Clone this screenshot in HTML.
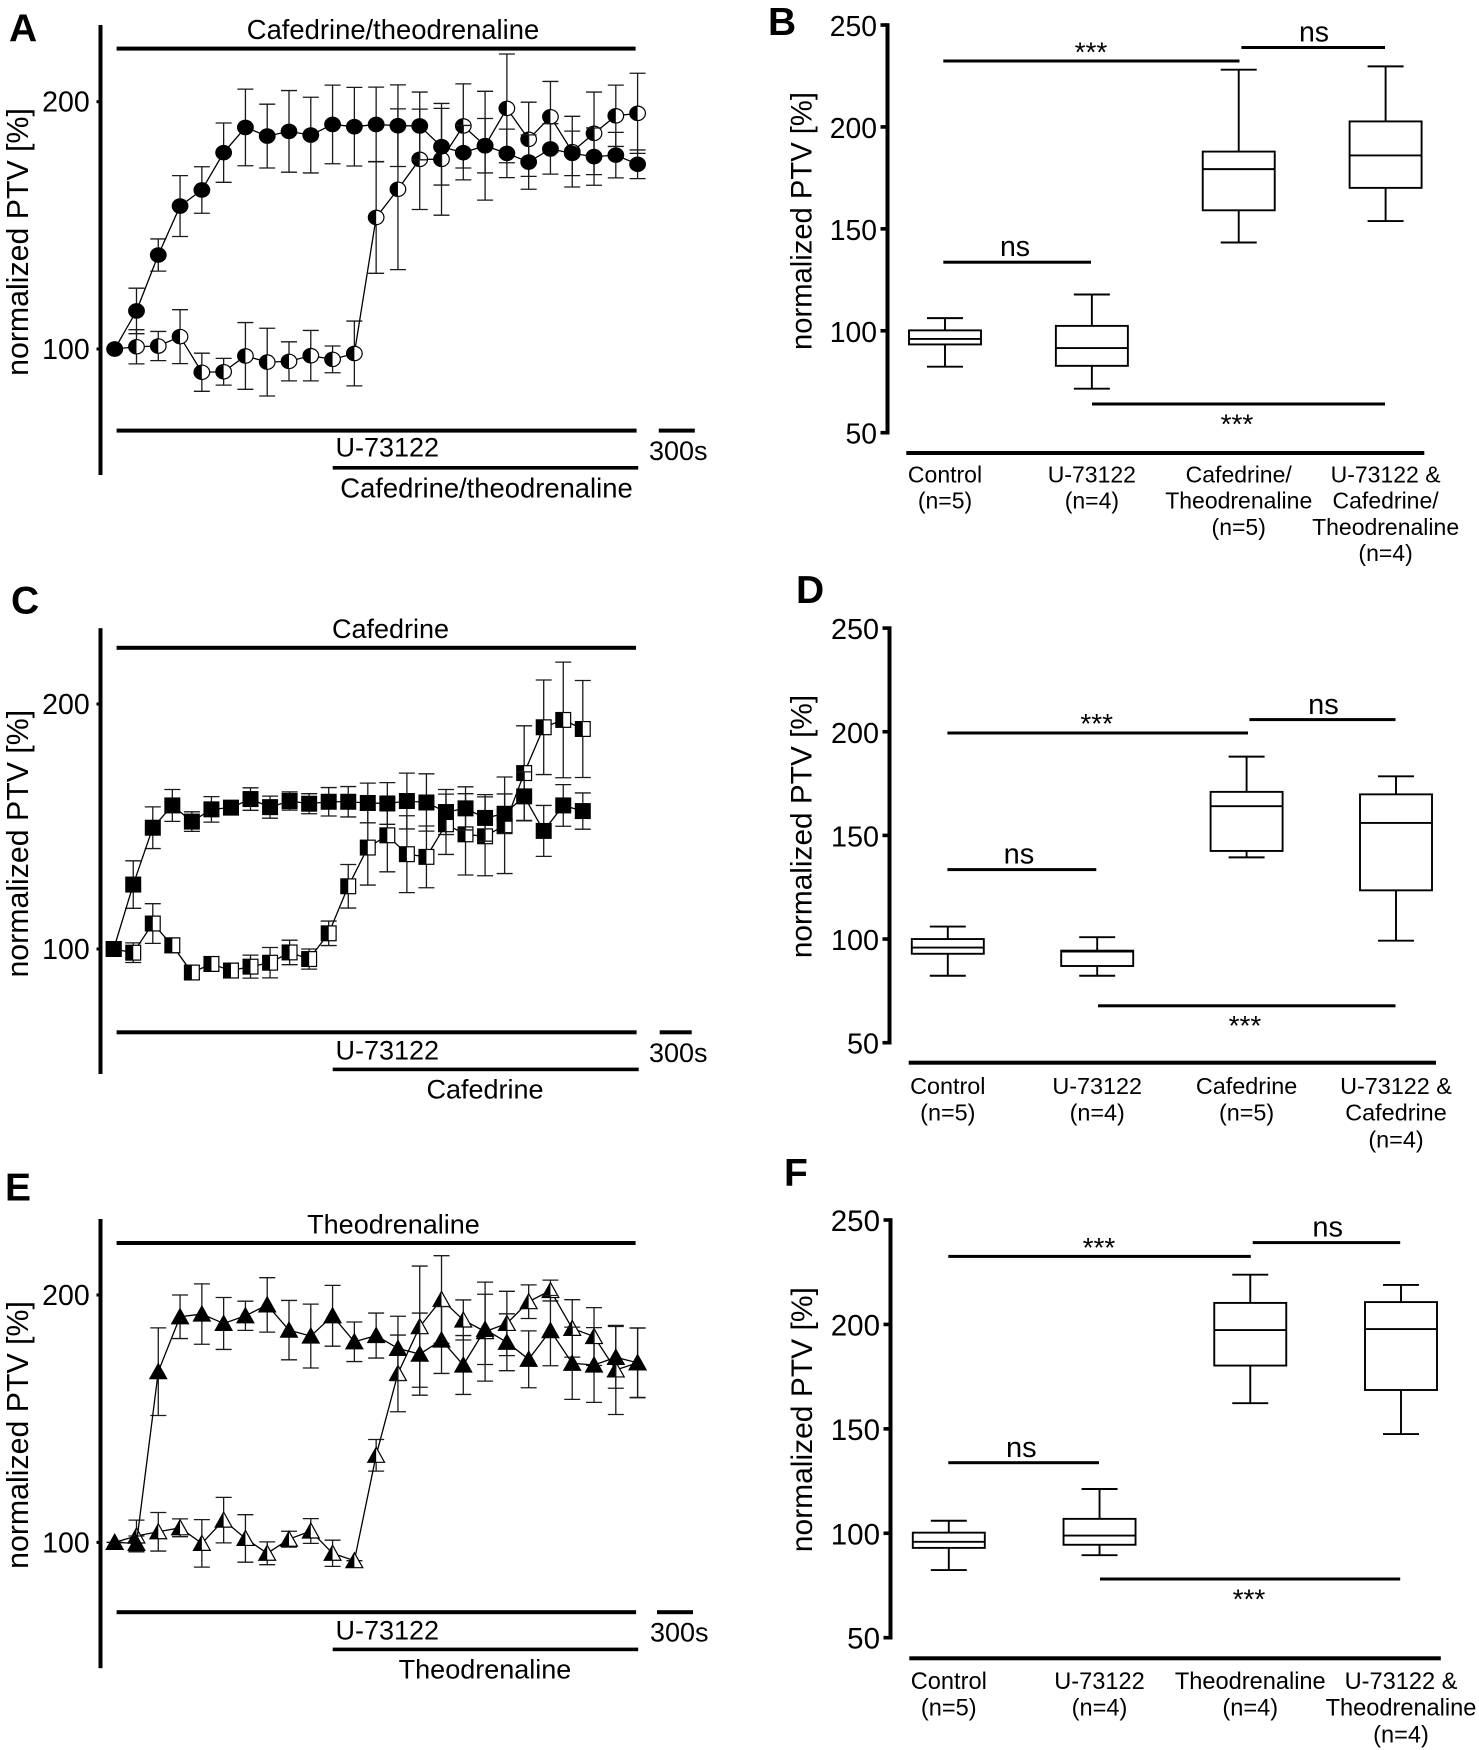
<!DOCTYPE html>
<html lang="en">
<head>
<meta charset="utf-8">
<title>Normalized PTV panels A to F</title>
<style>
html,body{margin:0;padding:0;background:#fff;}
svg{display:block;}
text{font-family:"Liberation Sans",Arial,sans-serif;fill:#000;}
.letter{font-weight:bold;font-size:39px;}
.ann{font-size:27px;}
</style>
</head>
<body>
<svg id="figure" xmlns="http://www.w3.org/2000/svg" width="1479" height="1750" viewBox="0 0 1479 1750">
<rect x="0" y="0" width="1479" height="1750" fill="#fff"/>

<text class="letter" x="9" y="41.5">A</text>
<text class="letter" x="768" y="35">B</text>
<text class="letter" x="11" y="613.5">C</text>
<text class="letter" x="796" y="603">D</text>
<text class="letter" x="5" y="1200.5">E</text>
<text class="letter" x="784" y="1186">F</text>

<g>
<text class="ann" style="font-size:27.4px" x="393" y="39" text-anchor="middle">Cafedrine/theodrenaline</text>
<rect x="116.6" y="46.6" width="519" height="4"/>
<rect x="116.6" y="428.6" width="520" height="4"/>
<rect x="658.8" y="428.6" width="36" height="4"/>
<text class="ann" x="335.5" y="456.5">U-73122</text>
<text class="ann" x="649" y="460">300s</text>
<rect x="332.7" y="466" width="305.5" height="3.6"/>
<text class="ann" style="font-size:27.4px" x="486.5" y="497.5" text-anchor="middle">Cafedrine/theodrenaline</text>
</g>

<g>
<text class="ann" x="390.5" y="638" text-anchor="middle">Cafedrine</text>
<rect x="116.6" y="645.8" width="519.4" height="4"/>
<rect x="116.6" y="1030.3" width="520" height="4"/>
<rect x="659.7" y="1030.3" width="32" height="4"/>
<text class="ann" x="335.5" y="1059.4">U-73122</text>
<text class="ann" x="649" y="1062">300s</text>
<rect x="332.7" y="1067.6" width="306" height="3.6"/>
<text class="ann" x="485" y="1098.4" text-anchor="middle">Cafedrine</text>
</g>

<g>
<text class="ann" x="393.5" y="1233.3" text-anchor="middle">Theodrenaline</text>
<rect x="116.6" y="1241" width="519" height="4"/>
<rect x="116.6" y="1610.2" width="519.5" height="4"/>
<rect x="657" y="1610.2" width="36" height="4"/>
<text class="ann" x="335.5" y="1639.3">U-73122</text>
<text class="ann" x="650" y="1641.6">300s</text>
<rect x="332.7" y="1647.6" width="305.5" height="3.6"/>
<text class="ann" x="485" y="1678.3" text-anchor="middle">Theodrenaline</text>
</g>

<g>
<rect x="943.3" y="59.5" width="296.2" height="3"/>
<text x="1091" y="61.5" text-anchor="middle" font-size="28">***</text>
<rect x="1241.4" y="46" width="143.6" height="3"/>
<text x="1314" y="41.4" text-anchor="middle" font-size="28.5">ns</text>
<rect x="943.3" y="260.7" width="147.7" height="3"/>
<text x="1015" y="256" text-anchor="middle" font-size="28.5">ns</text>
<rect x="1092" y="402.5" width="293" height="3"/>
<text x="1237" y="433.5" text-anchor="middle" font-size="28">***</text>
</g>

<g>
<rect x="947.4" y="731.5" width="300.6" height="3"/>
<text x="1096.7" y="733" text-anchor="middle" font-size="28">***</text>
<rect x="1249.4" y="718.1" width="146.1" height="3"/>
<text x="1323.4" y="713.8" text-anchor="middle" font-size="29">ns</text>
<rect x="947.4" y="868.1" width="148.9" height="3"/>
<text x="1019" y="863.5" text-anchor="middle" font-size="29">ns</text>
<rect x="1098" y="1004.3" width="297.5" height="3"/>
<text x="1245" y="1035" text-anchor="middle" font-size="28">***</text>
</g>

<g>
<rect x="948.3" y="1254.9" width="302.5" height="3"/>
<text x="1099" y="1257" text-anchor="middle" font-size="28">***</text>
<rect x="1252.7" y="1241.1" width="147.5" height="3"/>
<text x="1327.7" y="1236.5" text-anchor="middle" font-size="29">ns</text>
<rect x="948.3" y="1461.2" width="150.7" height="3"/>
<text x="1021.3" y="1457" text-anchor="middle" font-size="29">ns</text>
<rect x="1100" y="1577.5" width="300.2" height="3"/>
<text x="1249" y="1608.5" text-anchor="middle" font-size="28">***</text>
</g>
</svg>

<script>
// Shared x samples and tick labels
const sampleIndex = [1,2,3,4,5,6,7,8,9,10,11,12,13,14,15,16,17,18,19,20,21,22,23,24,25];
const lineTickLabels = [100,200];
const boxTickLabels = [50,100,150,200,250];

// Panel A: circles
const aDirectMean = [100,115.4,138,157.8,164.3,179.4,189.6,186.1,188,186.5,190.8,189.9,190.8,190.3,190.2,181.8,179.4,182.2,179.1,175.6,180.9,179.1,177.8,178.4,174.7];
const aDirectErr = [0,9.2,6.5,12.3,9.4,12,15.5,12.9,16.5,15.3,15.9,15.9,15.1,16.5,13.7,15.5,11,11,9.8,11,10.2,9,11.6,9.2,5.8];
const aBlockedMean = [100,100.9,101.2,105,90.6,90.8,97.2,94.7,95,97.3,95.8,98.2,153.2,164.6,176.7,176.7,190.2,182.2,197.3,184.8,193.9,179.8,187.2,194.3,195.3];
const aBlockedErr = [0,6.9,5.9,10.9,7.7,5.4,13.5,13.7,7.9,10.2,5.4,13.1,22.6,32.5,20.3,22.6,17,22,22,15,14.3,14.3,16.7,12.4,16.2];

// Panel C: squares
const cDirectMean = [100,126.3,149.5,158.6,152,157,157.7,161.2,157.9,160.4,159.3,160.1,160.1,159.6,159.4,160.4,159.8,155.9,157.4,153.5,155.2,162.3,148.2,158.6,156.3];
const cDirectErr = [0,9.7,8.5,6.5,4,5.2,2.4,4.6,4.5,3.7,4.1,5.8,6.2,8.1,8.5,11.4,11.7,9.2,8.8,9.5,8.1,10,10.4,8.5,7.4];
const cBlockedMean = [100,98.5,110.4,101.5,90.4,93.9,91.2,92.8,94.4,98.6,95.9,106.4,125.6,141.4,146.4,138.7,137.6,150.9,146.8,146,150.5,171.8,190.5,193.5,189.8];
const cBlockedErr = [0,4,8.1,3,2.5,3,3,4.7,6.2,5,4.1,5,8.9,15.3,14.9,15.7,12.6,12.3,16.6,16.1,19.7,19.3,19.3,23.6,19.8];

// Panel E: triangles
const eDirectMean = [100,99.6,169,191.2,192.3,188.5,191.6,196,185.8,183.4,191.6,181.1,183.6,178.4,176.1,181.8,171.7,186.1,180.9,174,185.6,172.4,171.7,174.8,172.6];
const eDirectErr = [0,3,17.7,8.8,12.2,10.5,5.9,11,12,12.9,12.3,8,9.1,13,16.6,13.5,11.9,14.2,11.5,11.5,14.2,14.6,15.1,12.5,14];
const eBlockedMean = [100,102.6,104.3,105.9,99.6,109,101.6,95.6,101.3,104.6,95.6,92.6,135.2,168.3,187.2,198.2,189.9,185.2,188.5,197.3,201.8,186.5,183.2,169.7,172.6];
const eBlockedErr = [0,6.4,7.8,3.6,9.6,9.2,9.6,4.6,3.2,5,5.3,0,6.4,15.5,24.5,17.7,8.1,20,13,6.8,4.2,11.6,11.7,18,14.1];

// Panel B boxes
const bWhiskerHigh = [106.2,117.8,228.1,229.7];
const bUpperQuartile = [100.2,102.4,187.9,202.7];
const bMedian = [96,91.5,179.3,186];
const bLowerQuartile = [93.3,82.8,159.1,170.1];
const bWhiskerLow = [82.4,71.6,143.3,153.8];
const bCategories = [["Control","(n=5)"],["U-73122","(n=4)"],["Cafedrine/","Theodrenaline","(n=5)"],["U-73122 &","Cafedrine/","Theodrenaline","(n=4)"]];

// Panel D boxes
const dWhiskerHigh = [106,100.9,188,178.5];
const dUpperQuartile = [100,94.4,171,169.8];
const dMedian = [95.9,94,164.1,156];
const dLowerQuartile = [92.9,87,142.5,123.5];
const dWhiskerLow = [82.3,82.3,139.4,99.2];
const dCategories = [["Control","(n=5)"],["U-73122","(n=4)"],["Cafedrine","(n=5)"],["U-73122 &","Cafedrine","(n=4)"]];

// Panel F boxes
const fWhiskerHigh = [106,121.2,223.8,218.9];
const fUpperQuartile = [100.3,106.9,210.3,210.7];
const fMedian = [95.9,98.9,197.3,197.8];
const fLowerQuartile = [93,94.5,180.3,168.6];
const fWhiskerLow = [82.4,89.5,162.3,147.5];
const fCategories = [["Control","(n=5)"],["U-73122","(n=4)"],["Theodrenaline","(n=4)"],["U-73122 &","Theodrenaline","(n=4)"]];

const SVG_NS = 'http://www.w3.org/2000/svg';
const figure = document.getElementById('figure');

function mk(tag, attrs, parent) {
  const el = document.createElementNS(SVG_NS, tag);
  for (const k in attrs) el.setAttribute(k, attrs[k]);
  parent.appendChild(el);
  return el;
}

function drawMarker(shape, half, cx, cy, parent) {
  const g = mk('g', {}, parent);
  
  
  const face = half ? '#fff' : '#000';
  if (shape === 'circle') {
    mk('ellipse', {cx: cx, cy: cy, rx: 7.8, ry: 7.2, fill: face, stroke: '#000', 'stroke-width': 1.2}, g);
    if (half) mk('path', {d: `M${cx},${cy-7.2}A7.8,7.2 0 0 0 ${cx},${cy+7.2}Z`, fill: '#000'}, g);
  } else if (shape === 'square') {
    mk('rect', {x: cx-7.4, y: cy-7.4, width: 14.8, height: 14.8, fill: face, stroke: '#000', 'stroke-width': 1.2}, g);
    if (half) mk('rect', {x: cx-7.4, y: cy-7.4, width: 7.4, height: 14.8, fill: '#000'}, g);
  } else {
    mk('polygon', {points: `${cx},${cy-8} ${cx+8.4},${cy+7} ${cx-8.4},${cy+7}`, fill: face, stroke: '#000', 'stroke-width': 1.2}, g);
    if (half) mk('polygon', {points: `${cx},${cy-8} ${cx},${cy+7} ${cx-8.4},${cy+7}`, fill: '#000'}, g);
  }
}

function drawSeries(root, name, means, errs, xScale, yScale, shape, half) {
  const g = mk('g', {}, root);
  
  
  means.forEach((v, i) => {
    const x = xScale(sampleIndex[i]);
    const hi = yScale(v + errs[i]);
    const lo = yScale(v - errs[i]);
    const bar = mk('path', {d: `M${x},${hi}V${lo}M${x-8},${hi}H${x+8}M${x-8},${lo}H${x+8}`, fill: 'none', stroke: '#1a1a1a', 'stroke-width': 1.3}, g);
    
    
  });
  const pts = means.map((v, i) => xScale(sampleIndex[i]) + ',' + yScale(v)).join(' ');
  const line = mk('polyline', {points: pts, fill: 'none', stroke: '#000', 'stroke-width': 1.3}, g);
  
  
  means.forEach((v, i) => drawMarker(shape, half, xScale(sampleIndex[i]), yScale(v), g));
}

function drawAxisTitle(root, x, cy, size) {
  const t = mk('text', {x: x, y: cy, transform: `rotate(-90 ${x} ${cy})`, 'text-anchor': 'middle', 'font-size': size}, root);
  
  
  t.textContent = 'normalized PTV [%]';
}

function drawLinePanel(cfg) {
  const root = mk('g', {}, figure);
  
  
  const first = sampleIndex[0], last = sampleIndex[sampleIndex.length - 1];
  const xScale = s => cfg.x0 + (s - first) * (cfg.x1 - cfg.x0) / (last - first);
  const yScale = v => cfg.y100 + (v - 100) * (cfg.y200 - cfg.y100) / 100;
  const axis = mk('rect', {x: 98.5, y: cfg.axisTop, width: 4, height: cfg.axisBottom - cfg.axisTop}, root);
  
  
  lineTickLabels.forEach(v => {
    const mark = mk('rect', {x: 96.5, y: yScale(v) - 1.5, width: 3, height: 3}, root);
    
    
    const lab = mk('text', {x: 89.7, y: yScale(v) + 10, 'text-anchor': 'end', 'font-size': 28.5}, root);
    
    
    lab.textContent = v;
  });
  drawAxisTitle(root, 28, cfg.titleY, cfg.titleSize);
  drawSeries(root, 'u73122-pretreated-series', cfg.blockedMean, cfg.blockedErr, xScale, yScale, cfg.shape, true);
  drawSeries(root, 'drug-only-series', cfg.directMean, cfg.directErr, xScale, yScale, cfg.shape, false);
}

function drawBoxPanel(cfg) {
  const root = mk('g', {}, figure);
  
  
  const yScale = v => cfg.y50 + (v - 50) * (cfg.y250 - cfg.y50) / 200;
  const xBand = i => cfg.x0 + i * (cfg.x3 - cfg.x0) / 3;
  const axis = mk('rect', {x: cfg.axisX - 2, y: cfg.y250 - 1.8, width: 4, height: cfg.y50 - cfg.y250 + 3.6}, root);
  
  
  const baseline = mk('rect', {x: cfg.baseX0, y: cfg.baseY - 2, width: cfg.baseX1 - cfg.baseX0, height: 4}, root);
  
  
  boxTickLabels.forEach(v => {
    const mark = mk('rect', {x: cfg.axisX - 7, y: yScale(v) - 1.8, width: 6, height: 3.6}, root);
    
    
    const lab = mk('text', {x: cfg.axisX - 10.5, y: yScale(v) + 11, 'text-anchor': 'end', 'font-size': cfg.tickSize}, root);
    
    
    lab.textContent = v;
  });
  drawAxisTitle(root, cfg.titleX, cfg.titleY, cfg.titleSize);
  cfg.categories.forEach((lines, i) => {
    const x = xBand(i);
    const box = mk('g', {fill: 'none', stroke: '#000', 'stroke-width': 1.9}, root);
    
    
    const hi = yScale(cfg.high[i]), q3 = yScale(cfg.q3[i]), med = yScale(cfg.median[i]), q1 = yScale(cfg.q1[i]), lo = yScale(cfg.low[i]);
    mk('path', {d: `M${x},${q3}V${hi}M${x-18},${hi}H${x+18}M${x},${q1}V${lo}M${x-18},${lo}H${x+18}`}, box);
    mk('rect', {x: x - 36, y: q3, width: 72, height: q1 - q3, fill: '#fff'}, box);
    mk('path', {d: `M${x-36},${med}H${x+36}`}, box);
    const label = mk('text', {'text-anchor': 'middle', 'font-size': cfg.labelSize}, root);
    
    
    lines.forEach((txt, j) => {
      const span = mk('tspan', {x: x, y: cfg.labelY + j * cfg.labelGap}, label);
      span.textContent = txt;
    });
  });
}

drawLinePanel({name: 'panel-a-chart', x0: 114.7, x1: 637.6, y100: 349, y200: 101.7, axisTop: 25, axisBottom: 475, titleY: 242, titleSize: 30.3, shape: 'circle',
  directMean: aDirectMean, directErr: aDirectErr, blockedMean: aBlockedMean, blockedErr: aBlockedErr});
drawLinePanel({name: 'panel-c-chart', x0: 113.7, x1: 582.8, y100: 949, y200: 704, axisTop: 628.2, axisBottom: 1074, titleY: 843.7, titleSize: 30.3, shape: 'square',
  directMean: cDirectMean, directErr: cDirectErr, blockedMean: cBlockedMean, blockedErr: cBlockedErr});
drawLinePanel({name: 'panel-e-chart', x0: 114.7, x1: 637.6, y100: 1542.4, y200: 1295, axisTop: 1219, axisBottom: 1668.2, titleY: 1435, titleSize: 30.3, shape: 'triangle',
  directMean: eDirectMean, directErr: eDirectErr, blockedMean: eBlockedMean, blockedErr: eBlockedErr});

drawBoxPanel({name: 'panel-b-chart', y50: 432.7, y250: 25, axisX: 887.5, baseX0: 906.3, baseX1: 1424.3, baseY: 453, x0: 945, x3: 1385.6,
  tickSize: 28.3, titleX: 811.5, titleY: 221, titleSize: 29.2, labelSize: 23, labelY: 482.5, labelGap: 26.2, categories: bCategories,
  high: bWhiskerHigh, q3: bUpperQuartile, median: bMedian, q1: bLowerQuartile, low: bWhiskerLow});
drawBoxPanel({name: 'panel-d-chart', y50: 1042.7, y250: 628.1, axisX: 889.5, baseX0: 908.7, baseX1: 1436, baseY: 1062.7, x0: 947.8, x3: 1396,
  tickSize: 28.8, titleX: 811.5, titleY: 826.5, titleSize: 29.8, labelSize: 23.4, labelY: 1093.9, labelGap: 26.7, categories: dCategories,
  high: dWhiskerHigh, q3: dUpperQuartile, median: dMedian, q1: dLowerQuartile, low: dWhiskerLow});
drawBoxPanel({name: 'panel-f-chart', y50: 1637.7, y250: 1220, axisX: 890.5, baseX0: 909.3, baseX1: 1440.8, baseY: 1658.3, x0: 948.8, x3: 1401,
  tickSize: 29.5, titleX: 812, titleY: 1419.7, titleSize: 30, labelSize: 23.6, labelY: 1688.8, labelGap: 26.8, categories: fCategories,
  high: fWhiskerHigh, q3: fUpperQuartile, median: fMedian, q1: fLowerQuartile, low: fWhiskerLow});
</script>
</body>
</html>
